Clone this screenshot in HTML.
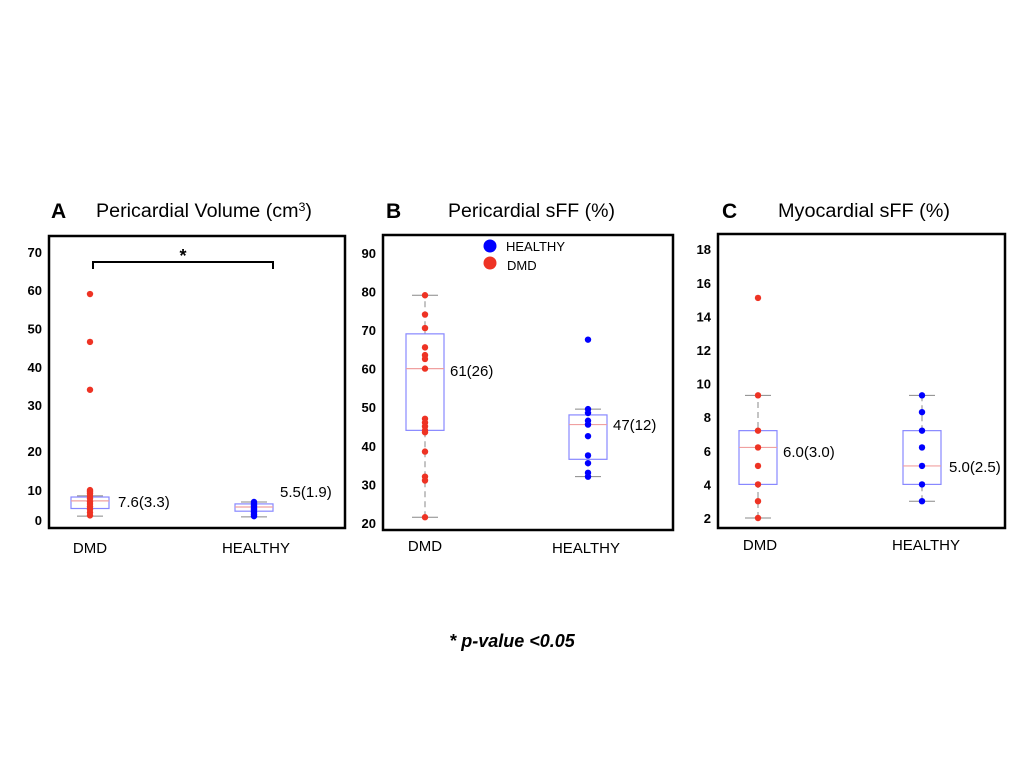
<!DOCTYPE html>
<html><head><meta charset="utf-8"><style>
body{margin:0;background:#fff;}
svg{display:block;font-family:"Liberation Sans",sans-serif;}
</style></head><body>
<svg id="chart" width="1024" height="768" viewBox="0 0 1024 768">
<g>
<text x="51" y="218" font-size="21" font-weight="bold">A</text>
<text x="96" y="217" font-size="19" textLength="216" lengthAdjust="spacingAndGlyphs">Pericardial Volume (cm<tspan font-size="12" dy="-6">3</tspan><tspan dy="6">)</tspan></text>
</g>
<g>
<text x="386" y="218" font-size="21" font-weight="bold">B</text>
<text x="448" y="217" font-size="19" textLength="167" lengthAdjust="spacingAndGlyphs">Pericardial sFF (%)</text>
</g>
<g>
<text x="722" y="218" font-size="21" font-weight="bold">C</text>
<text x="778" y="217" font-size="19" textLength="172" lengthAdjust="spacingAndGlyphs">Myocardial sFF (%)</text>
</g>
<text x="512" y="647" font-size="18" font-weight="bold" font-style="italic" text-anchor="middle">* p-value &lt;0.05</text>
</svg>
<script>
// Panel A data
const aTicks = [0,10,20,30,40,50,60,70];
const aDmdPts = [59,46.5,34,7.8,7.4,6.9,6.3,5.6,4.8,4.2,3.5,2.8,2,1.2];
const aDmdBox = [3,5,6,1,6.3]; // q1, median, q3, whisker low, whisker high
const aHeaPts = [4.7,4.3,3.9,3.5,3.1,2.7,2.3,1.9,1.4,1];
const aHeaBox = [2.3,3.4,4.2,0.8,4.7];
const aLabels = ["7.6(3.3)","5.5(1.9)"];
// Panel B data
const bTicks = [20,30,40,50,60,70,80,90];
const bDmdPts = [79,74,70.5,65.5,63.5,62.5,60,47,46,45,44,43.5,38.5,32,31,21.5];
const bDmdBox = [44,60,69,21.5,79];
const bHeaPts = [67.5,49.5,48.5,46.5,45.5,42.5,37.5,35.5,33,32];
const bHeaBox = [36.5,45.5,48,32,49.5];
const bLabels = ["61(26)","47(12)"];
// Panel C data
const cTicks = [2,4,6,8,10,12,14,16,18];
const cDmdPts = [15.1,9.3,7.2,6.2,5.1,4,3,2];
const cDmdBox = [4,6.2,7.2,2,9.3];
const cHeaPts = [9.3,8.3,7.2,6.2,5.1,4,3];
const cHeaBox = [4,5.1,7.2,3,9.3];
const cLabels = ["6.0(3.0)","5.0(2.5)"];
const groups = ["DMD","HEALTHY"];

const NS="http://www.w3.org/2000/svg";
const svg=document.getElementById('chart');
function mk(tag,attrs,parent){const e=document.createElementNS(NS,tag);for(const k in attrs)e.setAttribute(k,attrs[k]);(parent||svg).appendChild(e);return e;}

function panel(id,frame,yScale,ticks,tickClamp,series,labels,xLab){
  const g=mk('g',{});
  
  
  const fr=mk('rect',{x:frame[0],y:frame[1],width:frame[2]-frame[0],height:frame[3]-frame[1],fill:'none',stroke:'#000','stroke-width':2.5},g);
  
  
  ticks.forEach(t=>{
    let y=Math.min(yScale(t),tickClamp);
    const tx=mk('text',{x:frame[0]-7,y:y+5,'font-size':13,'font-weight':'bold','text-anchor':'end'},g);
    tx.textContent=t;
    
    
  });
  series.forEach((s,i)=>{
    const sg=mk('g',{},g);
    
    
    const cx=s.x, hw=19, box=s.box;
    mk('line',{x1:cx,x2:cx,y1:yScale(box[3]),y2:yScale(box[4]),stroke:'#888','stroke-dasharray':'6,4','stroke-width':1},sg);
    [box[3],box[4]].forEach(v=>mk('line',{x1:cx-13,x2:cx+13,y1:yScale(v),y2:yScale(v),stroke:'#888','stroke-width':1},sg));
    const r=mk('rect',{x:cx-hw,y:yScale(box[2]),width:2*hw,height:yScale(box[0])-yScale(box[2]),fill:'#fff',stroke:'#8888ff','stroke-width':1.2},sg);
    
    
    mk('line',{x1:cx-hw,x2:cx+hw,y1:yScale(box[1]),y2:yScale(box[1]),stroke:'#f0a0a0','stroke-width':1.2},sg);
    s.pts.forEach(v=>{
      const c=mk('circle',{cx:cx,cy:yScale(v),r:3.2,fill:s.color},sg);
      
      
    });
    const lb=mk('text',{x:labels[i][1],y:labels[i][2],'font-size':15},g);
    lb.textContent=labels[i][0];
    
    
    const xl=mk('text',{x:xLab[i][0],y:xLab[i][1],'font-size':15,'text-anchor':'middle'},g);
    xl.textContent=groups[i];
    
    
  });
  return g;
}

// Panel A
const yA=v=>520-3.83*v;
const yAtick=v=>v===0?520:(v===10?490:(v===20?451:520-3.83*v));
panel('panel-a',[49,236,345,528],yA,[],0,
 [{x:90,pts:aDmdPts,box:aDmdBox,color:'#ee3324'},{x:254,pts:aHeaPts,box:aHeaBox,color:'#0000ff'}],
 [[aLabels[0],118,507],[aLabels[1],280,497]],[[90,553],[256,553]]);
aTicks.forEach(t=>{
  const tx=mk('text',{x:42,y:yAtick(t)+5,'font-size':13,'font-weight':'bold','text-anchor':'end'});
  tx.textContent=t;
  
  
});
const br=mk('path',{d:'M93,269 V262 H273 V269',fill:'none',stroke:'#000','stroke-width':2});


const st=mk('text',{x:183,y:262,'font-size':18,'font-weight':'bold','text-anchor':'middle'});
st.textContent='*';



// Panel B
const yB=v=>523-3.86*(v-20);
panel('panel-b',[383,235,673,530],yB,bTicks,999,
 [{x:425,pts:bDmdPts,box:bDmdBox,color:'#ee3324'},{x:588,pts:bHeaPts,box:bHeaBox,color:'#0000ff'}],
 [[bLabels[0],450,376],[bLabels[1],613,430]],[[425,551],[586,553]]);
const lg=mk('g',{});


mk('circle',{cx:490,cy:246,r:6.5,fill:'#0000ff'},lg);
mk('circle',{cx:490,cy:263,r:6.5,fill:'#ee3324'},lg);
const l1=mk('text',{x:506,y:251,'font-size':13},lg);l1.textContent='HEALTHY';


const l2=mk('text',{x:507,y:270,'font-size':13},lg);l2.textContent='DMD';



// Panel C
const yC=v=>518-16.8*(v-2);
panel('panel-c',[718,234,1005,528],yC,cTicks,999,
 [{x:758,pts:cDmdPts,box:cDmdBox,color:'#ee3324'},{x:922,pts:cHeaPts,box:cHeaBox,color:'#0000ff'}],
 [[cLabels[0],783,457],[cLabels[1],949,472]],[[760,550],[926,550]]);
</script>
</body></html>
